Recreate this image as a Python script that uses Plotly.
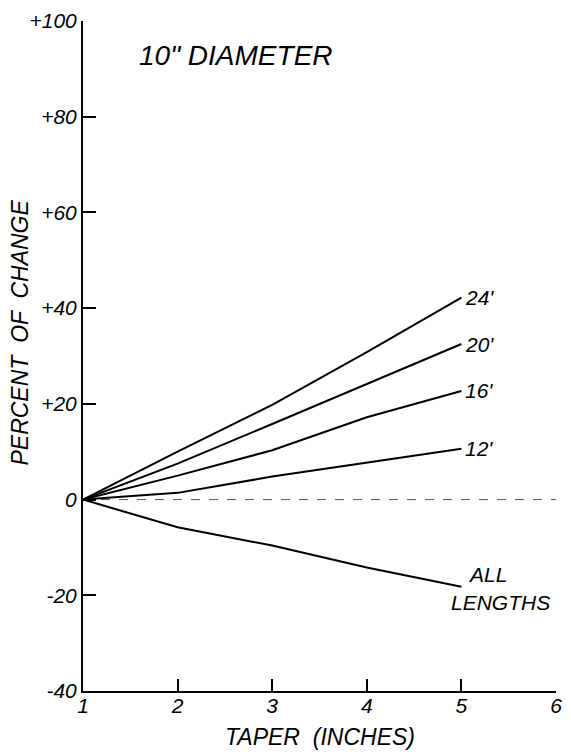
import plotly.graph_objects as go

taper = [1, 2, 3, 4, 5]
len_24 = [0, 10.0, 19.8, 30.8, 42.2]
len_20 = [0, 7.5, 15.8, 24.2, 32.5]
len_16 = [0, 5.0, 10.3, 17.2, 22.7]
len_12 = [0, 1.4, 4.8, 7.7, 10.6]
all_lengths = [0, -5.8, -9.6, -14.2, -18.2]

series = [("24'", len_24), ("20'", len_20), ("16'", len_16), ("12'", len_12), ("ALL LENGTHS", all_lengths)]

ytick_vals = [-40, -20, 0, 20, 40, 60, 80, 100]
ytick_text = ["-40", "-20", "0", "+20", "+40", "+60", "+80", "+100"]
xtick_vals = [1, 2, 3, 4, 5, 6]
xtick_text = ["1", "2", "3", "4", "5", "6"]

FONT = "Liberation Sans"
ital = dict(family=FONT, color="black", style="italic")

fig = go.Figure()

# zero reference line
fig.add_trace(go.Scatter(x=[1, 6], y=[0, 0], mode="lines",
                         line=dict(color="#555555", width=1, dash="dash"),
                         hoverinfo="skip", showlegend=False))

for name, vals in series:
    fig.add_trace(go.Scatter(x=taper, y=vals, mode="lines", name=name,
                             line=dict(color="black", width=2), showlegend=False))

annos = []
for name, vals in series[:4]:
    annos.append(dict(x=taper[-1], y=vals[-1], xref="x", yref="y", text=name,
                      showarrow=False, xanchor="left", yanchor="middle", xshift=2,
                      font=dict(size=21, **ital)))
all_words = series[4][0].split(" ")
annos.append(dict(x=taper[-1], y=all_lengths[-1], xref="x", yref="y", text=all_words[0],
                  showarrow=False, xanchor="left", yanchor="middle", xshift=5, yshift=12,
                  font=dict(size=21, **ital)))
annos.append(dict(x=taper[-1], y=all_lengths[-1], xref="x", yref="y", text=all_words[1],
                  showarrow=False, xanchor="left", yanchor="middle", xshift=-12, yshift=-16,
                  font=dict(size=21, **ital)))
annos.append(dict(x=0.115, y=0.975, xref="paper", yref="paper", text="10\" DIAMETER",
                  showarrow=False, xanchor="left", yanchor="top",
                  font=dict(size=28, **ital)))
annos.append(dict(x=0.5, y=0, xref="paper", yref="paper", text="TAPER  (INCHES)",
                  showarrow=False, xanchor="center", yanchor="top", yshift=-31,
                  font=dict(size=23, **ital)))
annos.append(dict(x=0, y=0.535, xref="paper", yref="paper", text="PERCENT  OF  CHANGE",
                  showarrow=False, xanchor="center", yanchor="middle", xshift=-63,
                  textangle=-90, font=dict(size=23, **ital)))

fig.update_layout(
    width=571, height=752,
    margin=dict(l=83, r=9, t=13, b=61),
    paper_bgcolor="white", plot_bgcolor="white",
    annotations=annos,
    xaxis=dict(range=[1, 6], tickvals=xtick_vals, ticktext=xtick_text,
               showline=True, linecolor="black", linewidth=2,
               ticks="inside", ticklen=12, tickwidth=2, tickcolor="black",
               ticklabelstandoff=-5,
               showgrid=False, zeroline=False, tickfont=dict(size=21, **ital)),
    yaxis=dict(range=[-40, 100], tickvals=ytick_vals, ticktext=ytick_text,
               showline=True, linecolor="black", linewidth=2,
               ticks="inside", ticklen=13, tickwidth=2, tickcolor="black",
               ticklabelstandoff=0,
               showgrid=False, zeroline=False, tickfont=dict(size=21, **ital)),
)

fig.write_html("out.html")
